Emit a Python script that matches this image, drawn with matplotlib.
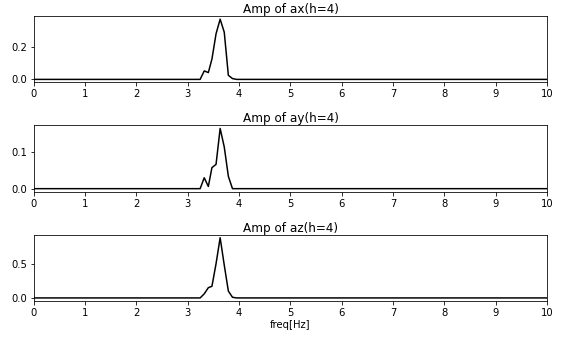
import numpy as np
import matplotlib
matplotlib.use("Agg")
import matplotlib.pyplot as plt

# frecuencias (Hz) del tramo con pico, el resto es cero hasta 10 Hz
freq = [0.0, 3.16, 3.24, 3.32, 3.40, 3.47, 3.55, 3.63, 3.71, 3.79, 3.87, 3.95, 10.0]

amp_ax = [0.0, 0.0, 0.0, 0.052, 0.042, 0.125, 0.28, 0.37, 0.29, 0.025, 0.005, 0.0, 0.0]
amp_ay = [0.0, 0.0, 0.0, 0.030, 0.006, 0.058, 0.067, 0.166, 0.115, 0.034, 0.0, 0.0, 0.0]
amp_az = [0.0, 0.0, 0.0, 0.06, 0.15, 0.17, 0.50, 0.88, 0.48, 0.10, 0.01, 0.0, 0.0]

names = ['ax', 'ay', 'az']
series = [amp_ax, amp_ay, amp_az]

fig, axes = plt.subplots(3, 1, figsize=(564 / 72, 337 / 72), dpi=72)
for a, name, amp in zip(axes, names, series):
    a.plot(freq, amp, color='black')
    a.set_title('Amp of {}(h=4)'.format(name), fontsize=12, pad=3)
    a.set_xlim(0, 10)
    a.set_xticks(np.arange(0, 11, 1))
axes[-1].set_xlabel('freq[Hz]', labelpad=2)
fig.subplots_adjust(left=0.060, right=0.970, top=0.952, bottom=0.107, hspace=0.65)
fig.savefig('out.png', dpi=72)
